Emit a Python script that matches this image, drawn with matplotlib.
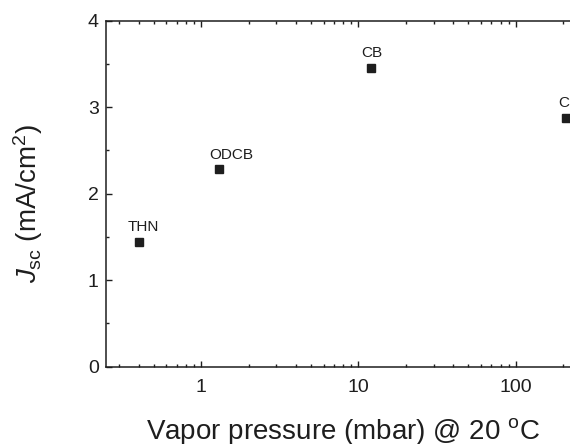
import numpy as np
import matplotlib
matplotlib.use("Agg")
import matplotlib.pyplot as plt
from matplotlib.ticker import LogLocator, MultipleLocator, FixedFormatter, FixedLocator

# solvents and their vapor pressure at 20 C
solvents = ["THN", "ODCB", "CB", "CF"]
vapor_pressure = [0.40, 1.30, 12.0, 210.0]
jsc = [1.445, 2.29, 3.457, 2.87]

# label offsets (points) from each marker
label_dx = [3.6, 8.6, 0.7, 1.4]
label_dy = [7.9, 7.2, 7.5, 8.5]

plt.rcParams["font.family"] = ["Liberation Sans", "DejaVu Sans"]
plt.rcParams["mathtext.fontset"] = "custom"
plt.rcParams["mathtext.rm"] = "Liberation Sans"
plt.rcParams["mathtext.it"] = "Liberation Sans:italic"
plt.rcParams["mathtext.bf"] = "Liberation Sans:bold"

ink = "#1e1e1e"

fig = plt.figure(figsize=(5.7, 4.44), dpi=100)
# axes runs past the right edge of the figure (cropped like the original)
ax = fig.add_axes([0.1868, 0.1741, 0.9941, 0.7793])

ax.plot(vapor_pressure, jsc, "s", color=ink, markersize=5.8, clip_on=False)
for name, x, y, dx, dy in zip(solvents, vapor_pressure, jsc, label_dx, label_dy):
    ax.annotate(name, (x, y), xytext=(dx, dy), textcoords="offset points",
                ha="center", va="baseline", fontsize=11, color=ink)

ax.set_xscale("log")
ax.set_xlim(0.25, 1000)
ax.set_ylim(0, 4)

ax.xaxis.set_major_locator(FixedLocator([1, 10, 100]))
ax.xaxis.set_major_formatter(FixedFormatter(["1", "10", "100"]))
ax.xaxis.set_minor_locator(LogLocator(base=10, subs=np.arange(2, 10)))
ax.yaxis.set_major_locator(MultipleLocator(1))
ax.yaxis.set_minor_locator(MultipleLocator(0.5))

ax.tick_params(which="both", direction="in", top=True, right=True,
               color=ink, width=1.0, labelcolor=ink)
ax.tick_params(which="major", length=4.5, labelsize=14)
ax.tick_params(which="minor", length=2.3)
ax.tick_params(axis="x", which="both", pad=9)
ax.tick_params(axis="y", which="both", pad=5.5)
ax.xaxis.set_minor_formatter(plt.NullFormatter())

for s in ax.spines.values():
    s.set_color(ink)
    s.set_linewidth(1.1)

ax.set_xlabel(r"Vapor pressure (mbar) @ 20 $^\mathregular{o}$C",
              fontsize=20, color=ink)
ax.xaxis.set_label_coords(0.417, -0.142)
ax.set_ylabel(r"$J_\mathregular{sc}$ (mA/cm$^\mathregular{2}$)",
              fontsize=20, color=ink)
ax.yaxis.set_label_coords(-0.109, 0.47)

fig.savefig("out.png", dpi=100)
